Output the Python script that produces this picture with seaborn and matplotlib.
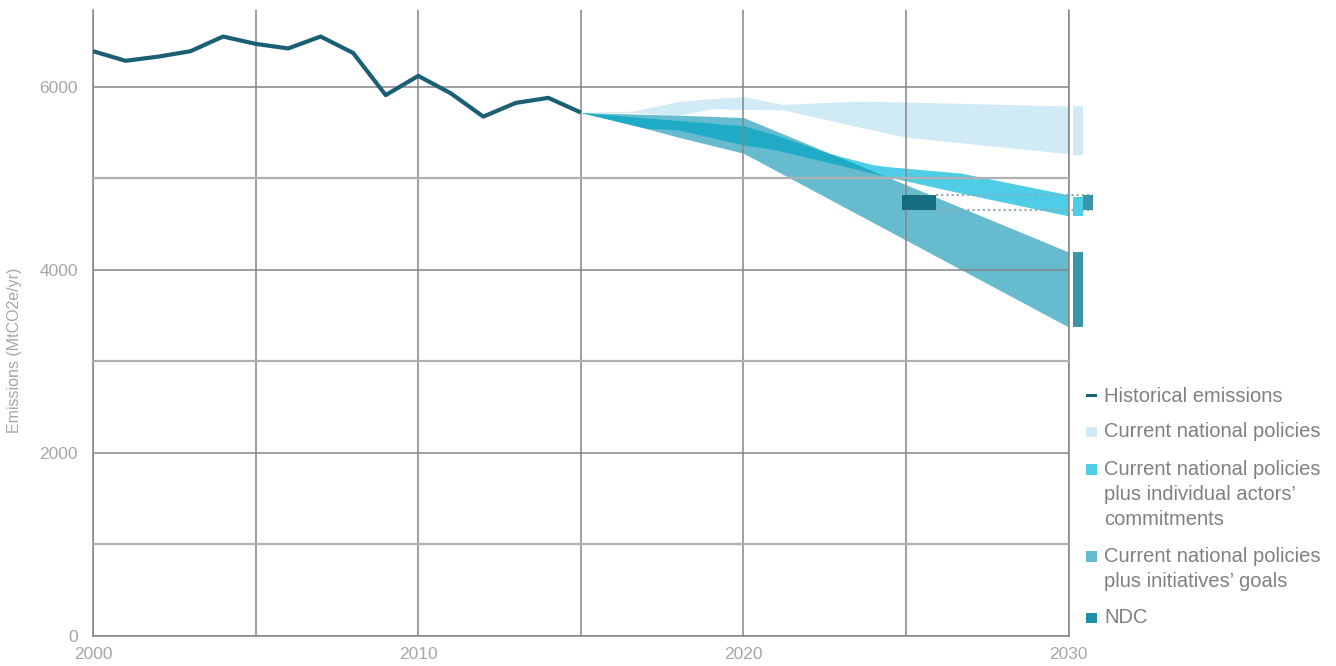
import numpy as np
import pandas as pd
import seaborn as sns
import matplotlib.pyplot as plt
from matplotlib.patches import Rectangle

# historical emissions (MtCO2e/yr)
hist_years = list(range(2000, 2016))
hist_values = [6390, 6285, 6330, 6390, 6550, 6470, 6420, 6550, 6370, 5910,
               6120, 5930, 5675, 5825, 5880, 5720]

# current national policies
cp_years = [2015, 2016.6, 2018, 2019, 2020, 2021.2, 2023.5, 2025, 2030]
cp_upper = [5720, 5735, 5840, 5870, 5895, 5808, 5845, 5835, 5790]
cp_lower = [5720, 5720, 5690, 5760, 5755, 5750, 5565, 5450, 5270]

# current national policies plus individual actors' commitments
ia_years = [2015, 2017, 2018, 2020, 2021, 2022.6, 2024, 2024.4, 2026.7, 2030]
ia_upper = [5720, 5662, 5633, 5575, 5475, 5275, 5148, 5130, 5057, 4820]
ia_lower = [5720, 5550, 5530, 5366, 5311, 5175, 5055, 5020, 4838, 4590]

# current national policies plus initiatives' goals
ig_years = [2015, 2017, 2018, 2020, 2030]
ig_upper = [5720, 5700, 5690, 5665, 4195]
ig_lower = [5720, 5545, 5450, 5275, 3375]

# NDC range
ndc_low, ndc_high = 4650, 4820

# ranges shown as bars right of 2030
bar_low = [5260, 4585, 3375]
bar_high = [5790, 4800, 4195]

legend_labels = ["Historical emissions",
                 "Current national policies",
                 "Current national policies\nplus individual actors’\ncommitments",
                 "Current national policies\nplus initiatives’ goals",
                 "NDC"]

c_hist = "#1b5f74"
c_cp = "#d0ebf5"
c_ia = "#4ecde6"
c_ig = "#66bbce"
c_both = "#1fabc6"
c_bar = "#3a95a7"
c_ndc = "#176c82"
c_ndc_leg = "#2090a8"
c_grid = "#858585"
c_text = "#a6a6a6"
c_leg = "#808080"

sns.set_style("white")
plt.rcParams['font.family'] = ['Liberation Sans', 'DejaVu Sans']

W, H = 1336, 666
fig = plt.figure(figsize=(W / 100, H / 100), dpi=100)
ax = fig.add_axes([93 / W, 30 / H, (1068.7 - 93) / W, (636 - 10) / H])

ax.fill_between(cp_years, cp_lower, cp_upper, color=c_cp, lw=0, zorder=1)
ax.fill_between(ig_years, ig_lower, ig_upper, color=c_ig, lw=0, zorder=1.1)
ax.fill_between(ia_years, ia_lower, ia_upper, color=c_ia, lw=0, zorder=1.2)

# overlap of the two lower bands is shown darker
g = np.linspace(2015, 2030, 601)
lo = np.maximum(np.interp(g, ia_years, ia_lower), np.interp(g, ig_years, ig_lower))
hi = np.minimum(np.interp(g, ia_years, ia_upper), np.interp(g, ig_years, ig_upper))
ax.fill_between(g, lo, hi, where=hi > lo, interpolate=True, color=c_both, lw=0, zorder=1.3)

hist = pd.DataFrame({"year": hist_years, "emissions": hist_values})
sns.lineplot(data=hist, x="year", y="emissions", color=c_hist, lw=3,
             ax=ax, zorder=4, solid_capstyle="butt")

# bars at 2030
bar_colors = [c_cp, c_ia, c_bar]
for lo_v, hi_v, col in zip(bar_low, bar_high, bar_colors):
    ax.bar(2030.12, hi_v - lo_v, bottom=lo_v, width=0.31, align="edge",
           color=col, lw=0, clip_on=False, zorder=3)
ax.bar(2030.43, ndc_high - ndc_low, bottom=ndc_low, width=0.31, align="edge",
       color=c_bar, lw=0, clip_on=False, zorder=3)
ax.bar(2024.87, ndc_high - ndc_low, bottom=ndc_low, width=1.05, align="edge",
       color=c_ndc, lw=0, zorder=3)
ax.hlines([ndc_low, ndc_high], 2025.92, 2030.74, colors="#8fa9b1",
          linestyles=(0, (1, 1.5)), lw=1.5, clip_on=False, zorder=2.8)

ax.set_xlim(2000, 2030)
ax.set_ylim(0, 6840)
ax.set_xticks([2000, 2010, 2020, 2030])
ax.set_xticks([2005, 2015, 2025], minor=True)
ax.set_yticks([0, 2000, 4000, 6000])
ax.set_yticks([1000, 3000, 5000], minor=True)
ax.xaxis.grid(True, which="both", color=c_grid, lw=1.1, zorder=2.5)
ax.yaxis.grid(True, which="major", color=c_grid, lw=1.1, zorder=2.5)
ax.yaxis.grid(True, which="minor", color="#b0b0b0", lw=1.6, zorder=2.5)
ax.axvline(2030, color=c_grid, lw=1.1, zorder=2.5, clip_on=False)
ax.set_axisbelow(False)
ax.tick_params(which="both", length=0, labelsize=12.5, labelcolor=c_text)
ax.tick_params(axis="y", pad=11)
ax.tick_params(axis="x", pad=8)
for s in ["top", "right"]:
    ax.spines[s].set_visible(False)
for s in ["left", "bottom"]:
    ax.spines[s].set_color(c_grid)
    ax.spines[s].set_linewidth(1.1)
ax.set_xlabel("")
ax.set_ylabel("")
fig.text(15 / W, 1 - 350 / H, "Emissions (MtCO2e/yr)", rotation=90,
         ha="center", va="center", fontsize=11.5, color=c_text)

# legend drawn at fixed spots to the right of the plot, one text per line
baselines = [402, 437.3, 475, 561.7, 623.3]
leg_colors = [c_hist, c_cp, c_ia, c_ig, c_ndc_leg]
for i, (lab, col, yb) in enumerate(zip(legend_labels, leg_colors, baselines)):
    if i == 0:
        fig.add_artist(Rectangle((1086 / W, 1 - (yb - 5.3) / H), 10.7 / W, 2.7 / H,
                                 transform=fig.transFigure, color=col, lw=0))
    else:
        fig.add_artist(Rectangle((1086 / W, 1 - yb / H), 10.7 / W, 10.6 / H,
                                 transform=fig.transFigure, color=col, lw=0))
    for j, line in enumerate(lab.split("\n")):
        fig.text(1104 / W, 1 - (yb + 25 * j) / H, line, ha="left", va="baseline",
                 fontsize=14.5, color=c_leg)

fig.savefig("out.png", dpi=100)
